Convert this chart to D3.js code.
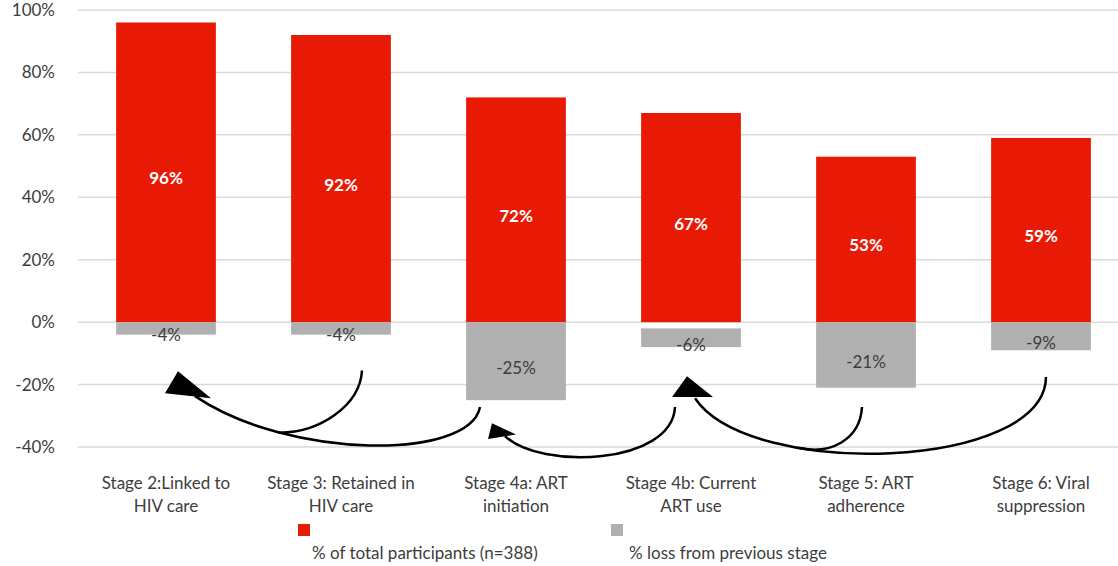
<!DOCTYPE html>
<html>
<head>
    <title>HIV care cascade</title>
    <meta charset="utf-8">
    <script src="https://d3js.org/d3.v7.min.js"></script>
    <style>
        body { margin: 0; background: #fff; }
        svg { display: block; font-family: Lato, "Open Sans", sans-serif; }
        .grid line { stroke: #d9d9d9; stroke-width: 1.5px; }
        .arrow { fill: none; stroke: #000; stroke-width: 2.5px; }
    </style>
</head>
<body>
<svg id="myGraph" width="1118" height="566"></svg>
<script>
    // data
    var stages = ["Stage 2", "Stage 3", "Stage 4a", "Stage 4b", "Stage 5", "Stage 6"];
    var stageLabels = [
        ["Stage 2:Linked to", "HIV care"],
        ["Stage 3: Retained in", "HIV care"],
        ["Stage 4a: ART", "initiation"],
        ["Stage 4b: Current", "ART use"],
        ["Stage 5: ART", "adherence"],
        ["Stage 6: Viral", "suppression"]
    ];
    var totalPct = [96, 92, 72, 67, 53, 59];
    var lossPct = [-4, -4, -25, -6, -21, -9];
    var lossStart = [0, 0, 0, -2, 0, 0];   // the 4b loss bar floats a little below zero
    var yTicks = [-40, -20, 0, 20, 40, 60, 80, 100];
    var legendNames = ["% of total participants (n=388)", "% loss from previous stage"];

    var red = "#e81a06", grey = "#b0b0b0", txt = "#3d3d3d";

    var svg = d3.select("#myGraph");

    var x = d3.scaleBand()
        .domain(stages)
        .range([78.5, 1128.5])
        .paddingInner(0.43)
        .paddingOuter(0.215);

    var y = d3.scaleLinear().domain([-40, 100]).range([447, 10]);

    // gridlines
    svg.append("g").attr("class", "grid")
        .selectAll("line").data(yTicks).enter().append("line")
        .attr("x1", 78).attr("x2", 1118)
        .attr("y1", function (d) { return y(d); })
        .attr("y2", function (d) { return y(d); });

    // y axis labels
    svg.append("g").selectAll("text").data(yTicks).enter().append("text")
        .attr("x", 55)
        .attr("y", function (d) { return y(d); })
        .attr("dy", "0.35em")
        .attr("text-anchor", "end")
        .attr("fill", txt)
        .attr("font-size", 17)
        .text(function (d) { return d + "%"; });

    // red bars
    svg.append("g").selectAll("rect").data(totalPct).enter().append("rect")
        .attr("x", function (d, i) { return x(stages[i]); })
        .attr("y", function (d) { return y(d); })
        .attr("width", x.bandwidth())
        .attr("height", function (d) { return y(0) - y(d); })
        .attr("fill", red);

    svg.append("g").selectAll("text").data(totalPct).enter().append("text")
        .attr("x", function (d, i) { return x(stages[i]) + x.bandwidth() / 2; })
        .attr("y", function (d) { return (y(d) + y(0)) / 2 + 6; })
        .attr("dy", "0.35em")
        .attr("text-anchor", "middle")
        .attr("fill", "#fff")
        .attr("font-weight", "bold")
        .attr("font-size", 17)
        .text(function (d) { return d + "%"; });

    // grey loss bars
    svg.append("g").selectAll("rect").data(lossPct).enter().append("rect")
        .attr("x", function (d, i) { return x(stages[i]); })
        .attr("y", function (d, i) { return y(lossStart[i]); })
        .attr("width", x.bandwidth())
        .attr("height", function (d, i) { return y(lossStart[i] + d) - y(lossStart[i]); })
        .attr("fill", grey);

    svg.append("g").selectAll("text").data(lossPct).enter().append("text")
        .attr("x", function (d, i) { return x(stages[i]) + x.bandwidth() / 2; })
        .attr("y", function (d, i) { return (y(lossStart[i]) + y(lossStart[i] + d)) / 2 + 7; })
        .attr("dy", "0.35em")
        .attr("text-anchor", "middle")
        .attr("fill", txt)
        .attr("font-size", 17)
        .text(function (d) { return d + "%"; });

    // curved arrows (loss flows back to earlier stages)
    function cx(i) { return x(stages[i]) + x.bandwidth() / 2; }
    function pt(i, dx, v) { return [cx(i) + dx, y(v)]; }
    function curve(p0, p1, p2, p3) {
        return "M" + p0 + "C" + p1 + " " + p2 + " " + p3;
    }
    var curves = [
        [pt(1, 21, -15.5), pt(1, 19, -26.6), pt(1, -21, -35.6), pt(1, -63, -35.4)],
        [pt(2, -36, -27.2), pt(2, -46, -44.2), pt(1, -51, -44.2), pt(0, 29, -23.7)],
        [pt(3, -16, -27.2), pt(3, -19, -45.8), pt(2, 24, -47.4), pt(2, -11, -36.5)],
        [pt(5, 5, -17.6), pt(5, 4, -47.4), pt(4, -116, -50.6), pt(3, 4, -24.4)],
        [pt(4, -4, -27.2), pt(4, -6, -37.8), pt(4, -36, -42.5), pt(4, -67, -40.3)]
    ];
    svg.append("g").selectAll("path").data(curves).enter().append("path")
        .attr("class", "arrow")
        .attr("d", function (c) { return curve(c[0], c[1], c[2], c[3]); });

    var heads = [
        [pt(0, 12, -15.7), pt(0, -1, -22.8), pt(0, 45, -24.4)],
        [pt(3, -4, -17.3), pt(3, -19, -24), pt(3, 22, -24)],
        [pt(2, -24, -32.4), pt(2, -28, -37.4), pt(2, 0, -36.0)]
    ];
    svg.append("g").selectAll("polygon").data(heads).enter().append("polygon")
        .attr("points", function (h) { return h.join(" "); })
        .attr("fill", "#000");

    // x axis labels
    var xl = svg.append("g").selectAll("text").data(stageLabels).enter().append("text")
        .attr("text-anchor", "middle")
        .attr("fill", txt)
        .attr("font-size", 17);
    xl.each(function (d, i) {
        var t = d3.select(this);
        d.forEach(function (line, k) {
            t.append("tspan")
                .attr("x", cx(i))
                .attr("y", 489 + k * 23)
                .text(line);
        });
    });

    // legend
    var legend = svg.append("g").selectAll("g").data(legendNames).enter().append("g")
        .attr("transform", function (d, i) { return "translate(" + (i === 0 ? 298 : 611) + ",524)"; });
    legend.append("rect")
        .attr("width", 12).attr("height", 12)
        .attr("fill", function (d, i) { return i === 0 ? red : grey; });
    legend.append("text")
        .attr("x", function (d, i) { return i === 0 ? 14 : 18; })
        .attr("y", 35)
        .attr("fill", txt)
        .attr("font-size", 17)
        .text(function (d) { return d; });
</script>
</body>
</html>
